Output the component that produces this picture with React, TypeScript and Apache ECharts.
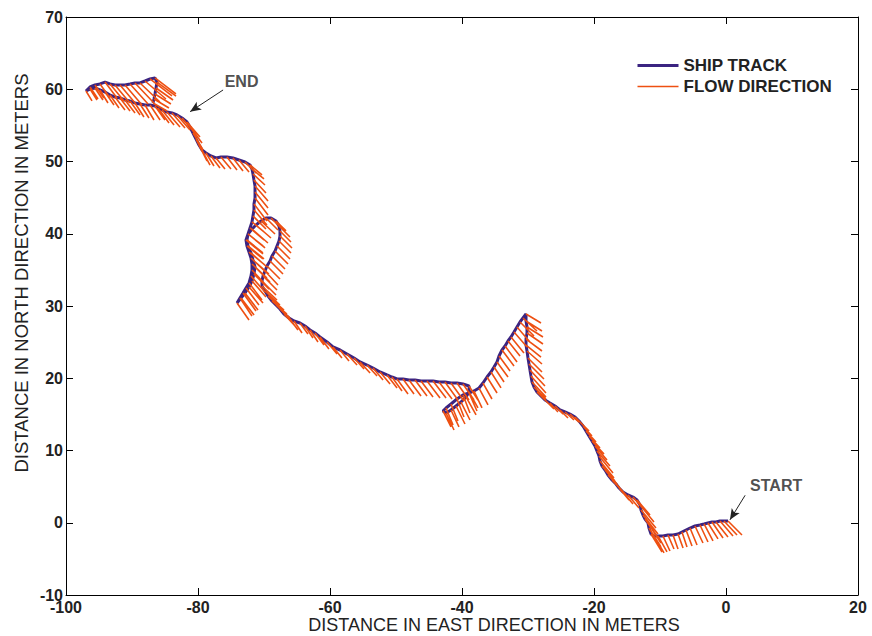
import React, { useEffect, useRef } from 'react';
import * as echarts from 'echarts';

// Ship track positions (meters east / meters north), from START to END, one line per stretch
const TRACK_X = [
  0.30,-0.30,-0.91,-1.52,-2.12,-2.73,-3.33,-3.94,-4.70,-5.45,-6.06,-6.67,-7.27,-8.03,-8.79,-9.55,-10.30,-10.91,-11.36,
  -11.67,-11.82,-12.27,-12.58,-12.88,-13.03,-13.48,-14.09,-14.85,-15.61,-16.21,-16.67,-17.27,-17.88,-18.33,-18.79,-19.09,-19.24,-19.55,-19.85,-20.30,-20.76,-21.21,-21.67,-22.27,-22.88,-23.64,-24.39,-25.15,-25.91,-26.67,-27.42,-28.03,-28.64,-29.09,
  -29.39,-29.55,-29.70,-29.85,-30.00,-30.15,-30.30,-30.30,-30.15,-30.15,-30.30,-30.30,
  -30.76,-31.21,-31.67,-32.12,-32.58,-33.03,-33.48,-33.94,-34.39,-34.70,-35.15,-35.61,-36.21,-36.82,-37.42,-38.18,
  -38.94,-39.85,-40.76,-41.67,-42.42,-42.88,-42.42,-41.67,-40.91,-40.15,-39.39,-38.94,-38.94,
  -39.85,-40.76,-41.67,-42.58,-43.48,-44.39,-45.30,-46.21,-47.12,-48.03,-48.94,-49.85,-50.61,-51.36,
  -52.42,-53.48,-54.39,-55.45,-56.36,-57.42,-58.48,-59.55,-60.45,-61.52,-62.27,-63.03,-63.79,-64.55,-65.45,-66.21,-66.97,-67.58,
  -68.18,-68.79,-69.39,-69.85,-70.30,-70.30,-70.15,-69.85,-69.55,-69.09,-68.79,-68.33,-68.03,-67.73,-67.58,-67.58,-67.73,-68.18,-68.94,-69.70,-70.45,-71.21,-71.82,-72.42,-72.73,-72.58,-72.27,-71.97,-71.82,-71.82,-71.97,-72.27,-72.73,-73.18,-73.64,-74.09,
  -73.48,-72.88,-72.27,-71.82,-71.52,-71.36,-71.67,-71.97,-72.42,-72.58,-72.42,-72.12,-71.82,-71.67,-71.52,-71.52,-71.36,-71.36,-71.36,-71.52,-71.67,-71.82,-72.12,
  -72.88,-73.79,-74.70,-75.61,-76.52,-77.27,-78.03,-78.79,-79.39,-79.85,-80.30,-80.76,-81.21,-81.67,-82.42,-83.18,-83.94,-84.70,-85.45,-86.06,-86.52,
  -87.27,-88.03,-88.79,-89.55,-90.30,-91.06,-91.82,-92.58,-93.33,-94.09,-94.85,-95.61,-96.36,-96.97,
  -96.36,-95.61,-94.85,-94.09,-93.33,-92.58,-91.82,-91.06,-90.30,-89.55,-88.79,-88.03,-87.27,-86.52,-86.21,-86.36,-86.52,-86.67,-86.82,
];
const TRACK_Y = [
  0.24,0.24,0.24,0.10,0.10,-0.03,-0.17,-0.31,-0.45,-0.73,-1.00,-1.28,-1.56,-1.70,-1.70,-1.83,-1.83,-1.83,-1.56,
  -0.73,-0.03,0.52,1.07,1.77,2.46,3.15,3.56,3.84,4.26,4.81,5.36,5.92,6.61,7.30,7.86,8.55,9.24,9.93,10.62,11.32,12.01,12.70,13.39,14.08,14.64,15.05,15.33,15.61,16.16,16.57,16.99,17.54,18.10,18.79,
  19.48,20.31,21.14,21.97,22.80,23.77,24.60,25.43,26.26,27.09,27.92,28.89,
  28.34,27.79,27.09,26.40,25.71,25.16,24.46,23.91,23.08,22.25,21.56,20.87,20.17,19.34,18.65,18.24,
  17.96,17.68,17.13,16.44,15.88,15.47,15.19,15.61,16.16,16.71,17.41,18.10,18.93,
  19.20,19.34,19.34,19.48,19.48,19.62,19.62,19.62,19.76,19.76,19.90,19.90,20.17,20.45,
  20.87,21.42,21.83,22.25,22.80,23.36,23.91,24.33,25.02,25.71,26.26,26.68,27.23,27.65,27.92,28.34,28.89,29.59,
  30.14,30.69,31.38,32.08,32.77,33.46,34.15,34.84,35.54,36.23,36.92,37.61,38.31,39.00,39.69,40.38,41.07,41.77,42.18,42.18,41.77,41.21,40.66,39.97,39.14,38.31,37.47,36.64,35.81,34.98,34.15,33.18,32.49,31.80,31.11,30.42,
  31.11,31.80,32.63,33.46,34.43,35.40,36.37,37.34,38.31,39.14,39.97,40.80,41.63,42.46,43.29,44.12,44.95,45.78,46.61,47.44,48.27,48.96,49.52,
  49.93,50.21,50.49,50.62,50.62,50.49,50.76,51.18,51.59,52.28,53.11,53.95,54.78,55.47,56.02,56.44,56.71,56.85,57.13,57.41,57.68,
  57.82,57.82,57.96,58.10,58.37,58.51,58.79,58.93,59.20,59.62,59.90,60.17,60.03,59.76,
  60.31,60.59,60.73,61.00,60.73,60.59,60.59,60.59,60.73,60.87,60.87,61.14,61.42,61.56,61.00,60.17,59.34,58.65,58.10,
];

// Flow direction at each track point: east (U) and north (V) components, meters
const FLOW_U = [
  2.12,1.97,1.97,1.82,1.67,1.52,1.36,1.21,1.21,1.06,0.91,0.76,0.76,0.76,0.91,1.06,1.36,1.52,1.67,
  1.82,1.97,2.12,2.27,2.27,2.12,1.97,1.82,1.67,1.52,1.52,1.67,1.82,1.82,1.82,1.97,2.12,2.12,1.97,1.82,1.82,1.67,1.52,1.36,1.52,1.36,1.36,1.36,1.21,1.21,1.21,1.36,1.36,1.52,1.82,
  2.12,2.27,2.27,2.27,2.12,2.27,2.27,2.42,2.42,2.42,2.42,2.27,
  2.12,2.12,1.97,1.97,1.97,1.82,1.82,1.82,1.67,1.67,1.52,1.52,1.52,1.36,1.36,1.21,
  1.21,1.06,1.06,1.06,1.06,1.21,1.21,1.21,1.36,1.36,1.52,1.36,1.36,
  1.67,1.82,1.97,1.97,1.97,1.97,1.97,1.82,1.82,1.82,1.67,1.67,1.52,1.52,
  1.52,1.52,1.52,1.52,1.52,1.52,1.36,1.36,1.52,1.36,1.36,1.21,1.21,1.21,1.21,1.36,1.67,1.82,
  2.12,2.27,2.42,2.27,2.27,2.12,2.12,1.97,1.97,1.97,1.97,1.97,1.97,1.82,1.82,1.67,1.67,1.52,1.67,1.82,2.12,2.27,2.42,2.58,2.58,2.42,2.42,2.27,2.27,2.12,2.12,1.97,1.97,1.97,1.82,1.82,
  1.97,1.97,2.12,2.12,2.27,2.27,2.42,2.42,2.42,2.42,2.27,2.12,1.82,1.97,1.97,1.97,1.97,1.97,1.97,1.82,1.82,1.82,1.82,
  1.67,1.52,1.52,1.52,1.52,1.36,1.36,1.21,1.21,1.21,1.36,1.52,1.82,1.97,1.97,1.97,1.97,1.97,1.82,1.67,1.52,
  1.52,1.36,1.36,1.36,1.52,1.52,1.52,1.52,1.36,1.36,1.21,1.21,1.06,0.91,
  1.21,1.36,1.52,1.82,2.12,2.27,2.42,2.58,2.73,2.88,3.03,3.18,3.33,3.18,2.88,2.58,2.42,2.27,2.12,
];
const FLOW_V = [
  -1.94,-1.94,-2.08,-2.08,-2.21,-2.21,-2.35,-2.35,-2.35,-2.35,-2.21,-2.08,-1.94,-1.94,-1.94,-2.08,-2.21,-2.35,-2.49,
  -2.63,-2.77,-2.77,-2.63,-2.49,-2.35,-2.08,-1.94,-1.80,-1.66,-1.66,-1.66,-1.80,-1.80,-1.94,-2.08,-2.35,-2.35,-2.08,-1.94,-1.80,-1.66,-1.52,-1.38,-1.38,-1.25,-1.11,-1.11,-1.11,-1.11,-1.25,-1.25,-1.25,-1.38,-1.66,
  -2.08,-2.35,-2.21,-2.08,-1.94,-1.80,-1.66,-1.66,-1.52,-1.38,-1.38,-1.25,
  -1.80,-1.94,-2.08,-2.08,-2.21,-2.08,-2.21,-2.21,-2.08,-2.08,-2.08,-2.21,-2.21,-2.21,-2.35,-2.35,
  -2.49,-2.49,-2.49,-2.35,-2.35,-2.21,-2.35,-2.35,-2.49,-2.49,-2.49,-2.21,-1.94,
  -2.21,-2.35,-2.49,-2.49,-2.35,-2.35,-2.35,-2.21,-2.21,-2.21,-2.08,-2.08,-1.94,-1.80,
  -1.66,-1.66,-1.52,-1.52,-1.52,-1.52,-1.52,-1.52,-1.66,-1.66,-1.66,-1.66,-1.66,-1.52,-1.66,-1.66,-1.66,-1.66,
  -1.80,-1.80,-1.94,-1.94,-1.94,-1.94,-1.94,-1.94,-1.80,-1.80,-1.80,-1.80,-1.80,-1.66,-1.66,-1.52,-1.52,-1.38,-1.52,-1.66,-1.80,-1.80,-1.94,-1.94,-1.94,-1.80,-1.80,-1.94,-1.94,-2.08,-2.21,-2.35,-2.35,-2.49,-2.49,-2.35,
  -2.35,-2.35,-2.21,-2.21,-2.08,-2.08,-1.94,-1.94,-1.80,-1.80,-1.66,-1.66,-1.38,-1.80,-2.08,-2.35,-2.35,-2.21,-2.08,-1.80,-1.52,-1.38,-1.38,
  -1.52,-1.66,-1.80,-1.80,-1.66,-1.52,-1.66,-1.80,-2.08,-2.21,-2.35,-2.35,-2.21,-2.08,-2.08,-2.08,-2.08,-2.08,-2.08,-2.08,-1.94,
  -2.08,-2.08,-1.94,-1.94,-1.94,-1.80,-1.80,-1.80,-1.80,-1.80,-1.80,-1.66,-1.52,-1.38,
  -1.66,-1.80,-1.94,-2.21,-2.35,-2.49,-2.63,-2.77,-2.77,-2.77,-2.63,-2.49,-2.35,-2.21,-1.94,-1.66,-1.38,-1.25,-1.11,
];

// Annotations
const NOTE_TEXT = ['END', 'START'];
const NOTE_TEXT_POS = [[-73.4, 61.1], [7.6, 5.2]];
const NOTE_ARROW_FROM = [[-76.2, 59.9], [2.9, 3.8]];
const NOTE_ARROW_TO = [[-81.2, 56.9], [0.6, 0.4]];

// Axes
const X_MIN = -100, X_MAX = 20, X_STEP = 20;
const Y_MIN = -10, Y_MAX = 70, Y_STEP = 10;
const X_NAME = 'DISTANCE IN EAST DIRECTION IN METERS';
const Y_NAME = 'DISTANCE IN NORTH DIRECTION IN METERS';
const SERIES_NAMES = ['SHIP TRACK', 'FLOW DIRECTION'];

const FONT = "'Liberation Sans', Arial, Helvetica, sans-serif";
const TRACK_COLOR = '#3b2481';
const FLOW_COLOR = '#ee5012';
const TEXT_COLOR = '#222222';

export default function App() {
  const ref = useRef<HTMLDivElement>(null);
  useEffect(() => {
    document.body.style.margin = '0';
    const chart = echarts.init(ref.current!, undefined, { renderer: 'svg' });
    const trackData = TRACK_X.map((x, i) => [x, TRACK_Y[i]]);
    const flowData: number[][] = [];
    TRACK_X.forEach((x, i) => {
      flowData.push([x, TRACK_Y[i]]);
      flowData.push([x + FLOW_U[i], TRACK_Y[i] + FLOW_V[i]]);
      flowData.push([NaN, NaN]);
    });
    const axisCommon = {
      type: 'value' as const,
      axisLine: { show: true, onZero: false, lineStyle: { color: '#000', width: 1 } },
      axisTick: { show: true, inside: true, length: 7, lineStyle: { color: '#000', width: 1 } },
      splitLine: { show: false },
    };
    const labelStyle = { fontFamily: FONT, fontWeight: 'bold' as const, fontSize: 16, color: TEXT_COLOR };
    chart.setOption({
      animation: false,
      backgroundColor: '#ffffff',
      grid: { left: 66, right: 14, top: 17, bottom: 41, containLabel: false, outerBoundsMode: 'none' },
      xAxis: [
        {
          ...axisCommon, position: 'bottom', min: X_MIN, max: X_MAX, interval: X_STEP,
          axisLabel: { ...labelStyle, margin: 4 },
          name: X_NAME, nameLocation: 'middle', nameGap: 21, nameMoveOverlap: false,
          nameTextStyle: { fontFamily: FONT, fontSize: 18, lineHeight: 18, color: TEXT_COLOR, padding: [0, 0, 0, 64] },
        },
        {
          ...axisCommon, position: 'top', min: X_MIN, max: X_MAX, interval: X_STEP,
          axisLabel: { show: false },
        },
      ],
      yAxis: [
        {
          ...axisCommon, position: 'left', min: Y_MIN, max: Y_MAX, interval: Y_STEP,
          axisLabel: { ...labelStyle, margin: 3 },
          name: Y_NAME, nameLocation: 'middle', nameGap: 35, nameMoveOverlap: false,
          nameTextStyle: { fontFamily: FONT, fontSize: 18.5, color: TEXT_COLOR, padding: [0, 0, 0, 66] },
        },
        {
          ...axisCommon, position: 'right', min: Y_MIN, max: Y_MAX, interval: Y_STEP,
          axisLabel: { show: false },
        },
      ],
      legend: {
        data: SERIES_NAMES,
        orient: 'vertical',
        left: 631,
        top: 52,
        itemWidth: 41,
        itemHeight: 14,
        itemGap: 4,
        selectedMode: false,
        itemStyle: { opacity: 0 },
        lineStyle: { width: 'inherit' },
        textStyle: { fontFamily: FONT, fontSize: 17, fontWeight: 'bold', color: TEXT_COLOR },
      },
      series: [
        {
          name: SERIES_NAMES[0],
          type: 'line',
          data: trackData,
          symbol: 'none',
          showSymbol: false,
          smooth: false,
          lineStyle: { color: TRACK_COLOR, width: 3 },
          itemStyle: { color: TRACK_COLOR },
          z: 2,
          silent: true,
        },
        {
          name: SERIES_NAMES[1],
          type: 'line',
          data: flowData,
          symbol: 'none',
          showSymbol: false,
          connectNulls: false,
          lineStyle: { color: FLOW_COLOR, width: 1.6 },
          itemStyle: { color: FLOW_COLOR },
          z: 3,
          silent: true,
        },
        {
          name: 'notes',
          type: 'scatter',
          data: NOTE_TEXT.map((t, i) => ({ value: NOTE_TEXT_POS[i], name: t })),
          symbolSize: 0,
          silent: true,
          label: {
            show: true,
            position: 'inside',
            formatter: (p: any) => p.name,
            fontFamily: FONT, fontSize: 16, fontWeight: 'bold', color: TEXT_COLOR,
          },
          markLine: {
            silent: true,
            symbol: ['none', 'arrow'],
            symbolSize: [7, 11],
            label: { show: false },
            lineStyle: { color: '#222', width: 1, type: 'solid' },
            data: NOTE_ARROW_FROM.map((f, i) => [
              { coord: f },
              { coord: NOTE_ARROW_TO[i] },
            ]),
          },
          z: 5,
        },
      ],
    });
    return () => chart.dispose();
  }, []);
  return <div ref={ref} style={{ position: 'fixed', left: 0, top: 0, width: 872, height: 636 }} />;
}
